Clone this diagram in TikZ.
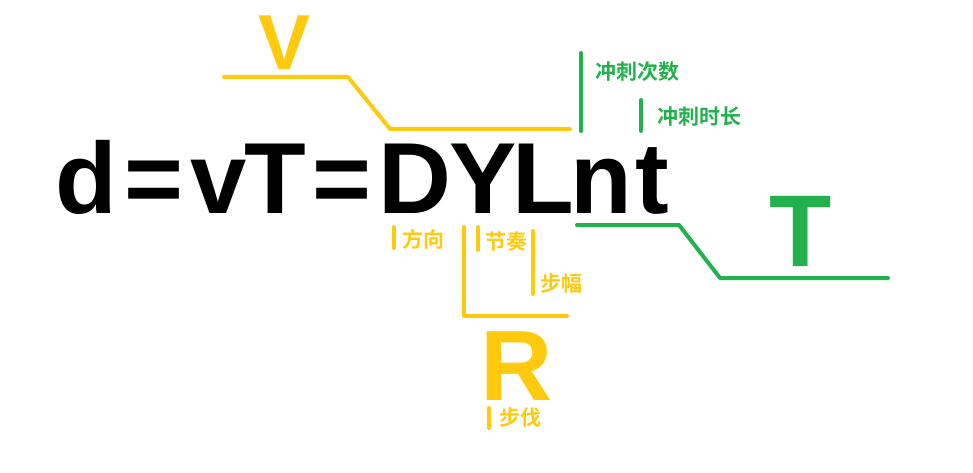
\documentclass[tikz,border=0pt]{standalone}
\usepackage{fontspec}
\setmainfont{Liberation Sans}
\newfontfamily\cjk{Noto Sans CJK SC}[BoldFont={* Bold}]
\definecolor{gold}{HTML}{FFC90E}
\definecolor{pgreen}{HTML}{22B14C}
\begin{document}
\begin{tikzpicture}[x=1pt,y=-1pt,
  bar/.style={line width=4pt,line cap=round,line join=round},
  ybar/.style={bar,draw=gold},
  gbar/.style={bar,draw=pgreen},
  big/.style={inner sep=0,anchor=base,text depth=0pt,font=\fontsize{101}{101}\selectfont\bfseries},
  ch/.style={big,text=black},
  lab/.style={inner sep=0,anchor=west,font=\cjk\fontsize{21}{21}\selectfont\bfseries},
]
\useasboundingbox[fill=white] (0,0) rectangle (973,473);
% formula  d = v T = D Y L n t
\node[ch] (fd)  at (86,213)    {d};
\node[ch] (fe1) at (154,213)   {=};
\node[ch] (fv)  at (218.5,213) {v};
\node[ch] (fT)  at (275,213)   {T};
\node[ch] (fe2) at (342,213)   {=};
\node[ch] (fD)  at (415,213)   {D};
\node[ch] (fY)  at (483,213)   {Y};
\node[ch] (fL)  at (543,213)   {L};
\node[ch] (fn)  at (601,213)   {n};
\node[ch] (ft)  at (652,213)   {t};
% V bracket
\node[big,text=gold,font=\fontsize{78}{78}\selectfont\bfseries] (V) at (285,70) {V};
\coordinate (v1) at (224,77);
\coordinate (v2) at (348,77);
\coordinate (v3) at (390,129);
\coordinate (v4) at (570,129);
\draw[ybar] (v1) -- (v2) -- (v3) -- (v4);
% T bracket
\node[big,text=pgreen,font=\fontsize{102}{102}\selectfont\bfseries] (T) at (801,266) {T};
\coordinate (t1) at (577,225);
\coordinate (t2) at (679,225);
\coordinate (t3) at (720,278);
\coordinate (t4) at (888,278);
\draw[gbar] (t1) -- (t2) -- (t3) -- (t4);
% green labels
\coordinate (g1a) at (581,53); \coordinate (g1b) at (581,131);
\draw[gbar] (g1a) -- (g1b);
\node[lab,text=pgreen] (cs) at (595,72) {冲刺次数};
\coordinate (g2a) at (641,100); \coordinate (g2b) at (641,131);
\draw[gbar] (g2a) -- (g2b);
\node[lab,text=pgreen] (cd) at (657,117) {冲刺时长};
% yellow labels
\coordinate (y1a) at (394,227); \coordinate (y1b) at (394,248);
\draw[ybar] (y1a) -- (y1b);
\node[lab,text=gold] (fx) at (402,239) {方向};
\coordinate (y2a) at (478,227); \coordinate (y2b) at (478,250);
\draw[ybar] (y2a) -- (y2b);
\node[lab,text=gold] (jz) at (485,242) {节奏};
\coordinate (y3a) at (533,231); \coordinate (y3b) at (533,294);
\draw[ybar] (y3a) -- (y3b);
\node[lab,text=gold] (bf) at (540,284) {步幅};
% R bracket
\coordinate (r1) at (464,227);
\coordinate (r2) at (464,316);
\coordinate (r3) at (567,316);
\draw[ybar] (r1) -- (r2) -- (r3);
\node[big,text=gold,font=\fontsize{100}{100}\selectfont\bfseries] (R) at (517,400) {R};
\coordinate (y4a) at (489,408); \coordinate (y4b) at (489,428);
\draw[ybar] (y4a) -- (y4b);
\node[lab,text=gold] (bfa) at (499,418) {步伐};
\end{tikzpicture}
\end{document}
